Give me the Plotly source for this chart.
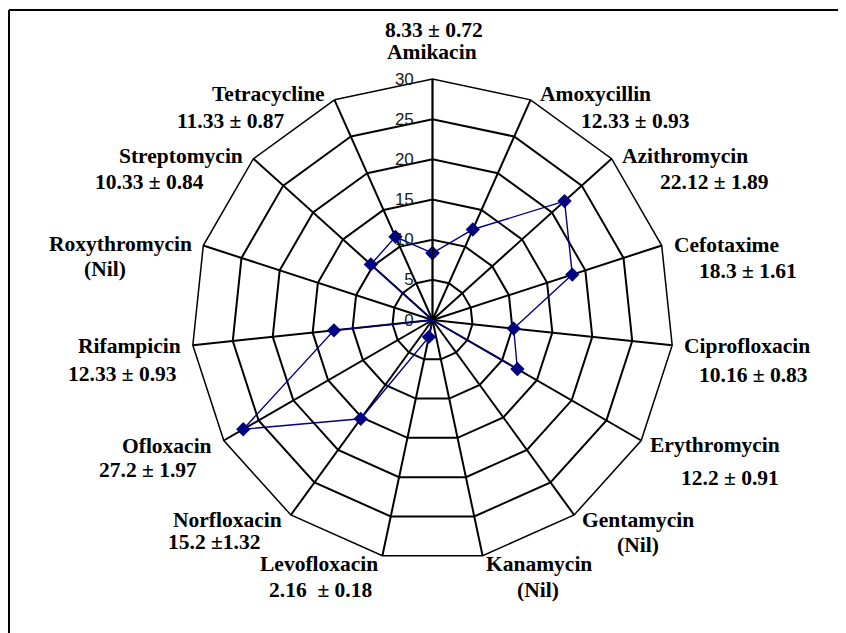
import plotly.graph_objects as go

# ---- data ----
drugs = ["Amikacin", "Amoxycillin", "Azithromycin", "Cefotaxime", "Ciprofloxacin",
         "Erythromycin", "Gentamycin", "Kanamycin", "Levofloxacin", "Norfloxacin",
         "Ofloxacin", "Rifampicin", "Roxythromycin", "Streptomycin", "Tetracycline"]
zones = [8.33, 12.33, 22.12, 18.3, 10.16, 12.2, 0, 0, 2.16, 15.2, 27.2, 12.33, 0, 10.33, 11.33]
value_labels = ["8.33 ± 0.72", "12.33 ± 0.93", "22.12 ± 1.89", "18.3 ± 1.61", "10.16 ± 0.83",
                "12.2 ± 0.91", "(Nil)", "(Nil)", "2.16  ± 0.18", "15.2 ±1.32",
                "27.2 ± 1.97", "12.33 ± 0.93", "(Nil)", "10.33 ± 0.84", "11.33 ± 0.87"]
radial_ticks = [0, 5, 10, 15, 20, 25, 30]

# ---- layout (pixel positions of the label lines, page coords) ----
W, H = 846, 633
OFF = 8  # page body margin
CX, CY, R = 432.5, 320, 241
name_pos = [(432, 52), (595, 94), (685, 155.5), (726, 245), (747, 346),
            (715, 444.5), (638, 520), (539, 564), (319, 564), (227, 519.5),
            (167, 445.5), (129, 345.5), (120, 244.5), (181, 155.5), (268, 94)]
value_pos = [(434, 30), (635, 120.5), (714, 182), (748, 271), (753, 374.5),
             (730, 477.5), (638, 545), (538, 590), (320, 590), (214, 542),
             (148, 470), (122, 374), (105, 269.5), (149, 182), (231, 121)]


def px(x):
    return (x - OFF) / W


def py(y):
    return 1 - (y - OFF) / H


FONT = "Liberation Serif, Times New Roman, serif"
NAVY = "#000080"

fig = go.Figure()
fig.add_trace(go.Scatterpolar(
    r=zones + [zones[0]],
    theta=drugs + [drugs[0]],
    mode="lines+markers",
    line=dict(color=NAVY, width=1.4),
    marker=dict(symbol="diamond", size=11, color=NAVY),
    showlegend=False,
    hoverinfo="skip",
))

annotations = []
for name, val, npos, vpos in zip(drugs, value_labels, name_pos, value_pos):
    for txt, (x, y) in ((name, npos), (val, vpos)):
        annotations.append(dict(
            x=px(x), y=py(y), xref="paper", yref="paper",
            text=f"<b>{txt}</b>", showarrow=False,
            xanchor="center", yanchor="middle",
            font=dict(family=FONT, size=21.5, color="black"),
        ))

fig.update_layout(
    width=W, height=H,
    margin=dict(l=0, r=0, t=0, b=0),
    paper_bgcolor="white", plot_bgcolor="white",
    polar=dict(
        domain=dict(x=[px(CX - R), px(CX + R)],
                    y=[py(CY + R), py(CY - R)]),
        bgcolor="white",
        gridshape="linear",
        radialaxis=dict(
            range=[0, 30], tickvals=radial_ticks, ticktext=[str(t) for t in radial_ticks],
            angle=90, side="counterclockwise", tickangle=90,
            showline=True, linecolor="black", linewidth=1.5,
            gridcolor="black", gridwidth=1.5,
            ticks="outside", ticklen=12, tickcolor="rgba(0,0,0,0)",
            tickfont=dict(family="Liberation Sans, Arial, sans-serif", size=17, color="#1a1a1a"),
        ),
        angularaxis=dict(
            direction="clockwise", rotation=90,
            showticklabels=False, ticks="",
            showline=True, linecolor="black", linewidth=1.5,
            gridcolor="black", gridwidth=1.5,
        ),
    ),
    annotations=annotations,
    shapes=[
        dict(type="line", xref="paper", yref="paper", x0=px(9), x1=1, y0=py(10), y1=py(10),
             line=dict(color="black", width=2)),
        dict(type="line", xref="paper", yref="paper", x0=px(9), x1=px(9), y0=py(10), y1=0,
             line=dict(color="black", width=2)),
    ],
)

fig.write_html("out.html")
